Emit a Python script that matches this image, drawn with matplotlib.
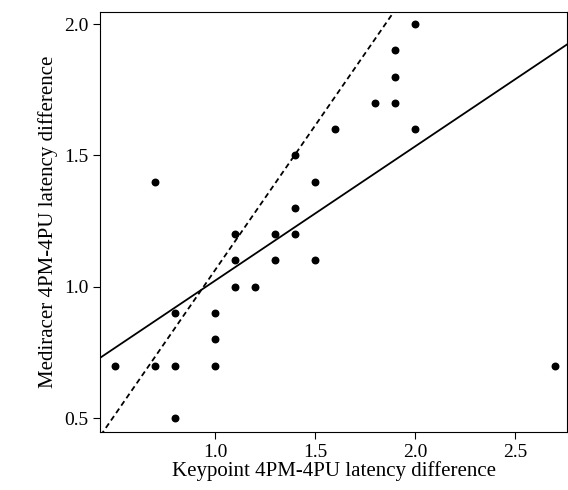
import matplotlib
matplotlib.use("Agg")
import matplotlib.pyplot as plt
import numpy as np

x = [0.5,0.7,0.7,0.8,0.8,0.8,1.0,1.0,1.0,1.1,1.1,1.1,1.2,1.3,1.3,1.4,1.4,1.4,1.5,1.5,1.6,1.8,1.9,1.9,1.9,2.0,2.0,2.7]
y = [0.7,1.4,0.7,0.9,0.7,0.5,0.9,0.8,0.7,1.2,1.1,1.0,1.0,1.2,1.1,1.5,1.3,1.2,1.4,1.1,1.6,1.7,1.9,1.8,1.7,2.0,1.6,0.7]
solid_fit = (0.511, 0.512)   # slope, intercept
dashed_fit = (1.10, -0.037)

plt.rcParams['font.family'] = ['Liberation Serif']
fig = plt.figure(figsize=(5.68, 4.9), dpi=100)
ax = fig.add_axes([100/568, 58/490, 467/568, 420/490])
ax.scatter(x, y, s=22, color='black', zorder=3)
xs = np.array([0.3, 3.0])
ax.plot(xs, solid_fit[0]*xs + solid_fit[1], color='black', lw=1.3)
ax.plot(xs, dashed_fit[0]*xs + dashed_fit[1], color='black', lw=1.3, ls=(0, (3, 2)))
ax.set_xlim(0.425, 2.76)
ax.set_ylim(0.447, 2.046)
ax.set_xticks([1.0, 1.5, 2.0, 2.5])
ax.set_yticks([0.5, 1.0, 1.5, 2.0])
ax.tick_params(labelsize=14, direction='out', length=5)
ax.set_xlabel('Keypoint 4PM-4PU latency difference', fontsize=15, labelpad=0)
ax.set_ylabel('Mediracer 4PM-4PU latency difference', fontsize=15)
fig.savefig('out.png', dpi=100)
